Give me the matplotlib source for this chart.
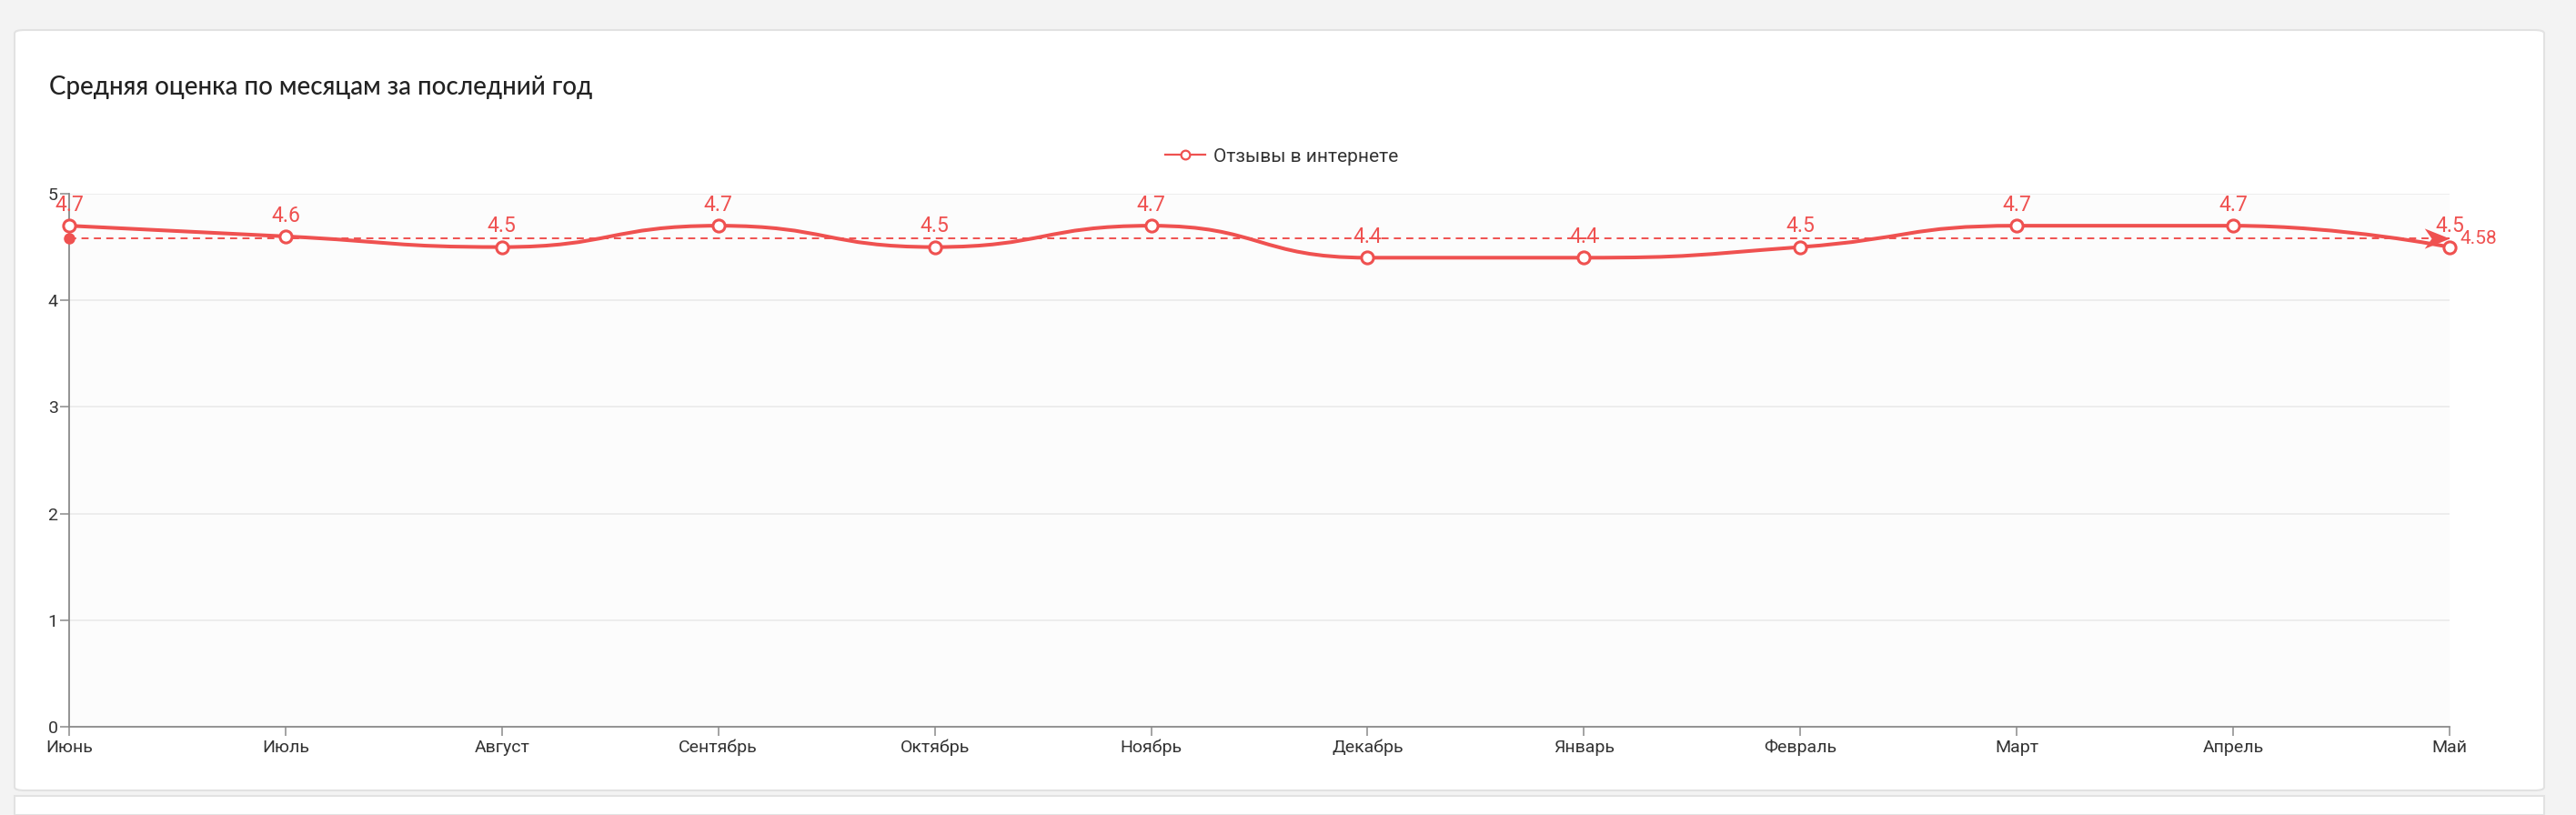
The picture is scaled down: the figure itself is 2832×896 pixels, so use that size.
import numpy as np
import matplotlib
matplotlib.use('Agg')
import matplotlib.pyplot as plt
from matplotlib.path import Path
from matplotlib.patches import PathPatch, FancyBboxPatch, Rectangle
from matplotlib.lines import Line2D

## Data
months = ['Июнь', 'Июль', 'Август', 'Сентябрь', 'Октябрь', 'Ноябрь',
          'Декабрь', 'Январь', 'Февраль', 'Март', 'Апрель', 'Май']
ratings = [4.7, 4.6, 4.5, 4.7, 4.5, 4.7, 4.4, 4.4, 4.5, 4.7, 4.7, 4.5]
y_ticks = [0, 1, 2, 3, 4, 5]
series_name = 'Отзывы в интернете'
title = 'Средняя оценка по месяцам за последний год'

red = '#ef5150'
text_dark = '#333333'
axis_gray = '#8a8a8a'

W, H = 2832, 896
fig = plt.figure(figsize=(W / 100, H / 100), dpi=100)
fig.patch.set_facecolor('#f3f3f3')

## card background
card = FancyBboxPatch((16 / W, 1 - 869 / H), (2797 - 16) / W, (869 - 33) / H,
                      boxstyle='round,pad=0,rounding_size=0.004',
                      transform=fig.transFigure, facecolor='white',
                      edgecolor='#e2e2e2', linewidth=1.5, zorder=-10)
fig.patches.append(card)
fig.patches.append(Rectangle((16 / W, 0), (2797 - 16) / W, (896 - 875) / H,
                             transform=fig.transFigure, facecolor='white',
                             edgecolor='#e2e2e2', linewidth=1.5, zorder=-10))

fig.text(54 / W, 1 - 96 / H, title, fontsize=20, family='Lato',
         weight='medium', color='#222222', va='center', ha='left')

## plot area
left, right, top, bottom = 76, 2693, 213, 799
ax = fig.add_axes([left / W, 1 - bottom / H, (right - left) / W, (bottom - top) / H])
ax.set_facecolor('#fcfcfc')
x = np.arange(len(months))
ax.set_xlim(0, len(months) - 1)
ax.set_ylim(0, 5)

for s in ['top', 'right']:
    ax.spines[s].set_visible(False)
for s in ['left', 'bottom']:
    ax.spines[s].set_color(axis_gray)
    ax.spines[s].set_linewidth(1.3)

ax.set_yticks(y_ticks)
ax.set_xticks(x)
ax.set_xticklabels(months)
ax.tick_params(axis='both', colors=axis_gray, length=7, width=1.1,
               labelcolor=text_dark, labelsize=14)
ax.tick_params(axis='x', pad=3)
ax.tick_params(axis='y', pad=2)
for lbl in ax.get_xticklabels() + ax.get_yticklabels():
    lbl.set_family('Roboto')
ax.yaxis.grid(True, color='#ebebeb', linewidth=1.2)
ax.set_axisbelow(True)


## ECharts-like smooth curve, computed in display space
def smooth_path(px, py, smooth=0.5):
    pts = ax.transData.transform(np.column_stack([px, py]))
    n = len(pts)
    verts = [pts[0]]
    codes = [Path.MOVETO]
    cp0 = pts[0].copy()
    for i in range(1, n):
        xx, yy = pts[i]
        px0, py0 = pts[i - 1]
        if i == n - 1:
            cp1 = pts[i].copy()
            ncp = pts[i].copy()
        else:
            nx, ny = pts[i + 1]
            vx, vy = nx - px0, ny - py0
            lp = np.hypot(xx - px0, yy - py0)
            ln = np.hypot(nx - xx, ny - yy)
            r = ln / (ln + lp)
            ncx = xx + vx * smooth * r
            ncy = yy + vy * smooth * r
            ncx = max(min(ncx, max(nx, xx)), min(nx, xx))
            ncy = max(min(ncy, max(ny, yy)), min(ny, yy))
            vx, vy = ncx - xx, ncy - yy
            c1x = xx - vx * lp / ln
            c1y = yy - vy * lp / ln
            c1x = max(min(c1x, max(px0, xx)), min(px0, xx))
            c1y = max(min(c1y, max(py0, yy)), min(py0, yy))
            vx, vy = xx - c1x, yy - c1y
            ncp = np.array([xx + vx * ln / lp, yy + vy * ln / lp])
            cp1 = np.array([c1x, c1y])
        verts += [cp0, cp1, pts[i]]
        codes += [Path.CURVE4] * 3
        cp0 = ncp
    verts = ax.transData.inverted().transform(np.array(verts))
    return Path(verts, codes)


ax.add_patch(PathPatch(smooth_path(x, ratings), facecolor='none',
                       edgecolor=red, linewidth=2.9, zorder=3,
                       capstyle='round', joinstyle='round'))
ax.plot(x, ratings, linestyle='none', marker='o', markersize=9.5,
        markerfacecolor='white', markeredgecolor=red, markeredgewidth=2.2,
        zorder=5, clip_on=False)

for xi, v in zip(x, ratings):
    ax.annotate(f'{v}', (xi, v), xytext=(0, 8), textcoords='offset points',
                ha='center', va='bottom', color=red, fontsize=16.5,
                family='Roboto', zorder=6, annotation_clip=False)

## average mark line
avg = round(float(np.mean(ratings)), 2)
ax.plot([0, len(months) - 1], [avg, avg], color=red, linewidth=1.4,
        dashes=(4, 3), zorder=2)
ax.plot([0], [avg], marker='o', markersize=8, color=red, zorder=4, clip_on=False)
arrow = Path([(0, 0), (-1, 0.4), (-0.72, 0), (-1, -0.4), (0, 0)],
             [Path.MOVETO, Path.LINETO, Path.LINETO, Path.LINETO, Path.CLOSEPOLY])
ax.plot([len(months) - 1], [avg], marker=arrow, markersize=40, color=red,
        markeredgewidth=0, zorder=4, clip_on=False)
ax.annotate(f'{avg:g}', (len(months) - 1, avg), xytext=(8, 0),
            textcoords='offset points', ha='left', va='center', color=red,
            fontsize=15, family='Roboto', annotation_clip=False)

## legend
handle = Line2D([], [], color=red, linewidth=1.6, marker='o', markersize=7,
                markerfacecolor='white', markeredgecolor=red, markeredgewidth=1.6)
leg = fig.legend([handle], [series_name], loc='center',
                 bbox_to_anchor=(1409 / W, 1 - 172 / H), frameon=False,
                 prop={'family': 'Roboto', 'size': 15}, handlelength=2.1,
                 handletextpad=0.45)
for t in leg.get_texts():
    t.set_color(text_dark)

fig.savefig('out.png', dpi=100, facecolor=fig.get_facecolor())
